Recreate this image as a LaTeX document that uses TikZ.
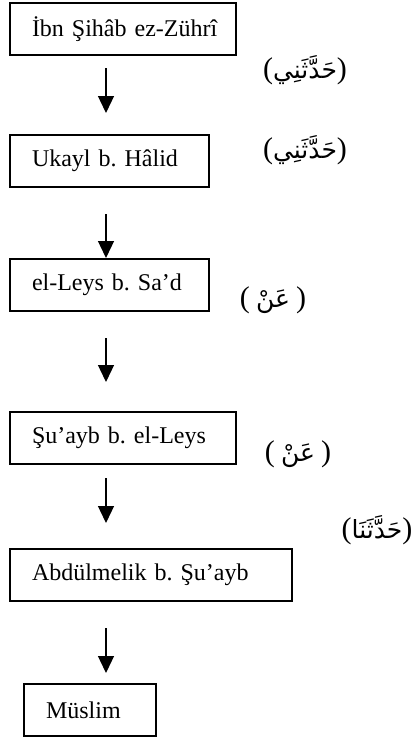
\documentclass[tikz,border=0pt]{standalone}
\usepackage{fontspec}
\setmainfont{Liberation Serif}
\newfontfamily\arabicfont[Script=Arabic]{DejaVu Sans}
\TeXXeTstate=1
\usetikzlibrary{arrows.meta}
\newcommand{\arw}[1]{{\arabicfont\beginR #1\endR}}
\newcommand{\lp}{{\rmfamily\fontsize{30}{34}\selectfont(}}
\newcommand{\rp}{{\rmfamily\fontsize{30}{34}\selectfont)}}
\begin{document}
\frenchspacing
\begin{tikzpicture}[x=1pt,y=-1pt,
  box/.style={draw, line width=1.5pt, minimum height=52pt, inner xsep=22pt, inner ysep=0pt,
    align=left, font=\fontsize{24}{28}\selectfont, anchor=center},
  arr/.style={line width=1.3pt, -{Triangle[width=16pt,length=17pt]}},
  lbl/.style={font=\fontsize{25}{30}\selectfont, inner sep=0pt, anchor=center}]
\useasboundingbox (0,0) rectangle (413,740);
\fill[white] (0,0) rectangle (413,740);
% boxes
\node[box, text width=182pt] (b1) at (123,29) {\mbox{İbn Şihâb ez-Zührî}};
\node[box, text width=155pt] (b2) at (109.5,161) {\mbox{Ukayl b. Hâlid}};
\node[box, text width=155pt] (b3) at (109.5,285) {\mbox{el-Leys b. Sa’d}};
\node[box, text width=182pt] (b4) at (123,438) {\mbox{Şu’ayb b. el-Leys}};
\node[box, text width=238pt] (b5) at (151,575) {\mbox{Abdülmelik b. Şu’ayb}};
\node[box, text width=88pt] (b6) at (90,710) {\mbox{Müslim}};
% arrows
\coordinate (a1s) at (106,68);  \coordinate (a1e) at (106,113);
\coordinate (a2s) at (106,214); \coordinate (a2e) at (106,258);
\coordinate (a3s) at (106,338); \coordinate (a3e) at (106,382);
\coordinate (a4s) at (106,478); \coordinate (a4e) at (106,523);
\coordinate (a5s) at (106,628); \coordinate (a5e) at (106,673);
\draw[arr] (a1s) -- (a1e);
\draw[arr] (a2s) -- (a2e);
\draw[arr] (a3s) -- (a3e);
\draw[arr] (a4s) -- (a4e);
\draw[arr] (a5s) -- (a5e);
% labels
\node[lbl] (l1) at (305,70) {\lp\arw{حَدَّثَنِي}\rp};
\node[lbl] (l2) at (305,150) {\lp\arw{حَدَّثَنِي}\rp};
\node[lbl] (l3) at (273,300) {\lp\ \arw{عَنْ}\ \rp};
\node[lbl] (l4) at (298,454) {\lp\ \arw{عَنْ}\ \rp};
\node[lbl] (l5) at (377,530) {\lp\arw{حَدَّثَنَا}\rp};
\end{tikzpicture}
\end{document}
